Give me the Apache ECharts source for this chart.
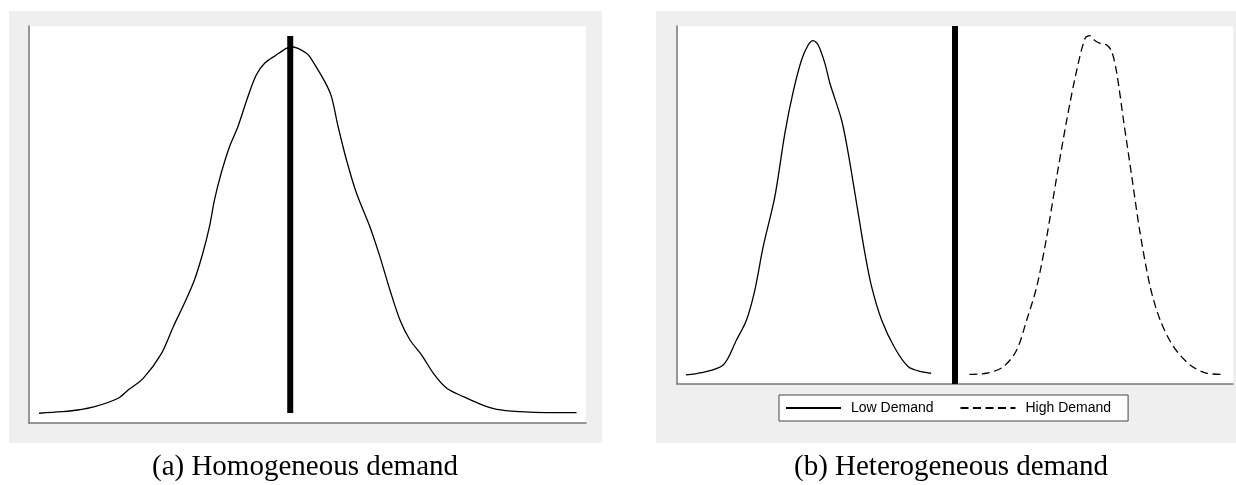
<!DOCTYPE html>
<html>
<head>
<meta charset="utf-8">
<script src="https://cdn.jsdelivr.net/npm/echarts@6/dist/echarts.min.js"></script>
<style>
  html, body { margin: 0; padding: 0; background: #ffffff; }
  #chart { width: 1236px; height: 485px; }
</style>
</head>
<body>
<div id="chart"></div>
<script>
// ---- Data (x: demand in arbitrary units, y: density) ----
// Panel (a): homogeneous demand
const homoX = [0.18, 0.58, 0.88, 1.18, 1.60, 1.78, 2.05, 2.38, 2.59, 2.79, 2.97, 3.12, 3.24, 3.33, 3.45, 3.60, 3.75, 3.93, 4.08, 4.23, 4.44, 4.62, 4.71, 4.83, 4.98, 5.04, 5.31, 5.43, 5.55, 5.70, 5.88, 6.12, 6.30, 6.48, 6.66, 6.84, 7.05, 7.26, 7.50, 7.80, 8.10, 8.40, 8.82, 9.29, 9.83];
const homoY = [0.0098, 0.0114, 0.0131, 0.0164, 0.0249, 0.0332, 0.0450, 0.0702, 0.0970, 0.1206, 0.1441, 0.1710, 0.1978, 0.2247, 0.2516, 0.2784, 0.2985, 0.3288, 0.3506, 0.3624, 0.3708, 0.3775, 0.3791, 0.3775, 0.3725, 0.3691, 0.3439, 0.3288, 0.2985, 0.2650, 0.2314, 0.1978, 0.1676, 0.1340, 0.1038, 0.0836, 0.0685, 0.0501, 0.0350, 0.0265, 0.0191, 0.0138, 0.0114, 0.0104, 0.0104];
const homoCutX = [4.69, 4.69];
const homoCutY = [0.010, 0.390];

// Panel (b): heterogeneous demand
const lowX = [0.16, 0.44, 0.83, 1.07, 1.25, 1.40, 1.55, 1.76, 1.94, 2.09, 2.24, 2.36, 2.45, 2.54, 2.66, 2.75, 2.96, 3.08, 3.23, 3.38, 3.50, 3.68, 3.92, 4.16, 4.40, 4.57];
const lowY = [0.0101, 0.0126, 0.0212, 0.0492, 0.0715, 0.1050, 0.1534, 0.2093, 0.2801, 0.3266, 0.3620, 0.3788, 0.3836, 0.3788, 0.3583, 0.3360, 0.2950, 0.2578, 0.2019, 0.1460, 0.1087, 0.0715, 0.0399, 0.0193, 0.0137, 0.0120];
const highX = [5.26, 5.57, 5.87, 6.11, 6.29, 6.47, 6.65, 6.83, 7.01, 7.19, 7.34, 7.42, 7.52, 7.64, 7.73, 7.82, 7.91, 8.03, 8.18, 8.33, 8.51, 8.69, 8.93, 9.23, 9.53, 9.80];
const highY = [0.0108, 0.0120, 0.0193, 0.0380, 0.0715, 0.1087, 0.1646, 0.2316, 0.2950, 0.3508, 0.3863, 0.3892, 0.3836, 0.3799, 0.3788, 0.3713, 0.3472, 0.2950, 0.2316, 0.1684, 0.1087, 0.0715, 0.0417, 0.0212, 0.0120, 0.0108];
const heteroCutX = [5.0, 5.0];
const heteroCutY = [0, 0.4];

const seriesNames = ['Low Demand', 'High Demand'];
const captions = ['(a) Homogeneous demand', '(b) Heterogeneous demand'];

const zip = (xs, ys) => xs.map((x, i) => [x, ys[i]]);

const axisLineStyle = { color: '#777777', width: 1.5 };
function xAx(gi) {
  return { type: 'value', gridIndex: gi, min: 0, max: 10,
    axisLine: { show: true, onZero: false, lineStyle: axisLineStyle },
    axisTick: { show: false }, axisLabel: { show: false }, splitLine: { show: false } };
}
function yAx(gi) {
  return { type: 'value', gridIndex: gi, min: 0, max: 0.4,
    axisLine: { show: true, onZero: false, lineStyle: axisLineStyle },
    axisTick: { show: false }, axisLabel: { show: false }, splitLine: { show: false } };
}

const chart = echarts.init(document.getElementById('chart'), null, { renderer: 'canvas' });
chart.setOption({
  backgroundColor: '#ffffff',
  animation: false,
  graphic: [
    { type: 'rect', z: -10, shape: { x: 9, y: 11, width: 593, height: 432 }, style: { fill: '#efefef' } },
    { type: 'rect', z: -10, shape: { x: 656, y: 11, width: 590, height: 432 }, style: { fill: '#efefef' } }
  ],
  title: [
    { text: captions[0], left: 300, top: 448, textAlign: 'center',
      textStyle: { fontFamily: 'Liberation Serif', fontWeight: 'normal', fontSize: 29, color: '#000' } },
    { text: captions[1], left: 946, top: 448, textAlign: 'center',
      textStyle: { fontFamily: 'Liberation Serif', fontWeight: 'normal', fontSize: 29, color: '#000' } }
  ],
  legend: {
    data: seriesNames,
    left: 779, top: 395,
    padding: [6, 17, 6, 6],
    itemWidth: 55, itemHeight: 14, itemGap: 26,
    backgroundColor: '#ffffff',
    borderColor: '#444444', borderWidth: 1,
    itemStyle: { opacity: 0 },
    textStyle: { fontFamily: 'Liberation Sans', fontSize: 14, color: '#000', padding: [0, 0, 0, 5] },
    selectedMode: false
  },
  grid: [
    { left: 29, top: 26, width: 557, height: 397, show: true, backgroundColor: '#ffffff', borderWidth: 0 },
    { left: 677, top: 26, width: 556, height: 358, show: true, backgroundColor: '#ffffff', borderWidth: 0 }
  ],
  xAxis: [xAx(0), xAx(1)],
  yAxis: [yAx(0), yAx(1)],
  series: [
    { name: 'Homogeneous', type: 'line', xAxisIndex: 0, yAxisIndex: 0, data: zip(homoX, homoY),
      smooth: 0.3, symbol: 'none', lineStyle: { color: '#000', width: 1.3 } },
    { name: 'cutoffA', type: 'line', xAxisIndex: 0, yAxisIndex: 0, data: zip(homoCutX, homoCutY),
      symbol: 'none', lineStyle: { color: '#000', width: 6, cap: 'butt' }, z: 3 },
    { name: seriesNames[0], type: 'line', xAxisIndex: 1, yAxisIndex: 1, data: zip(lowX, lowY),
      smooth: 0.3, symbol: 'none', itemStyle: { color: '#000' }, lineStyle: { color: '#000', width: 1.3 } },
    { name: seriesNames[1], type: 'line', xAxisIndex: 1, yAxisIndex: 1, data: zip(highX, highY),
      smooth: 0.3, symbol: 'none', itemStyle: { color: '#000' }, lineStyle: { color: '#000', width: 1.3, type: [8, 4.5] } },
    { name: 'cutoffB', type: 'line', xAxisIndex: 1, yAxisIndex: 1, data: zip(heteroCutX, heteroCutY),
      symbol: 'none', lineStyle: { color: '#000', width: 6, cap: 'butt' }, z: 3 }
  ]
});
</script>
</body>
</html>
